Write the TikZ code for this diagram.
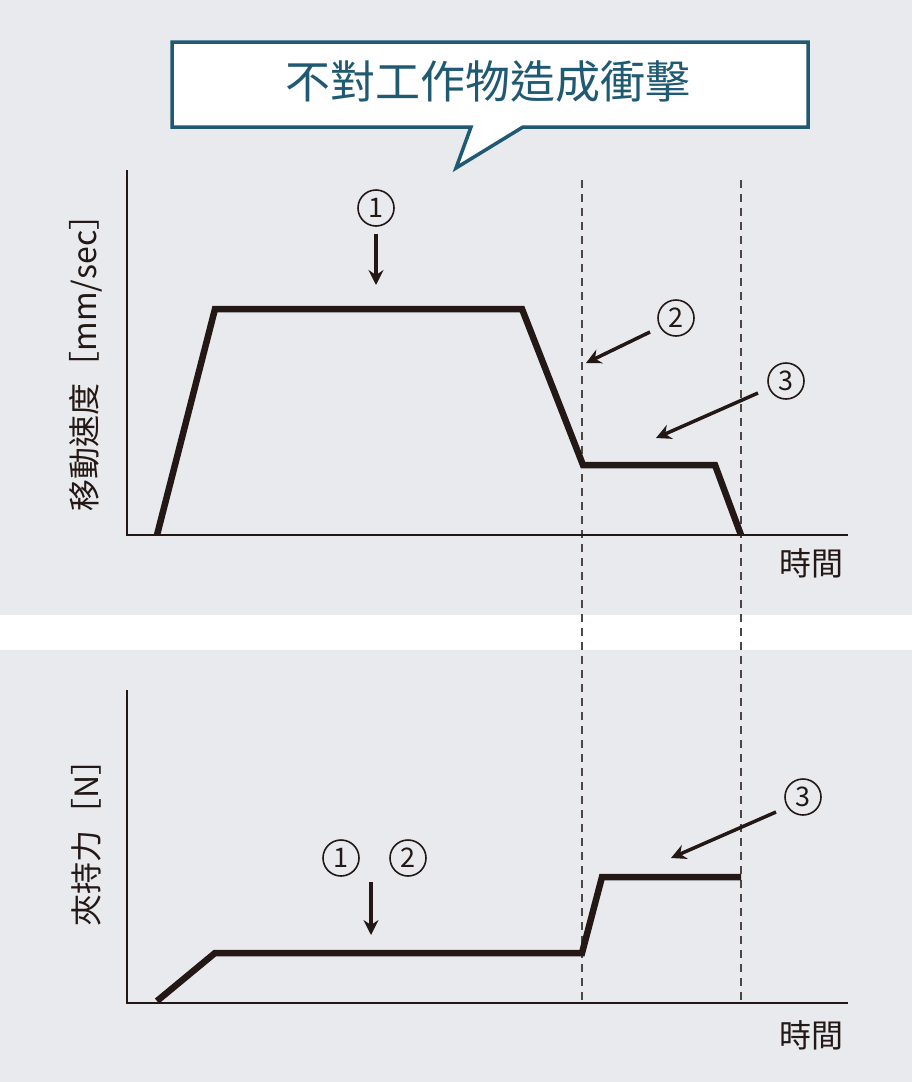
\documentclass[tikz,border=0pt]{standalone}
\usepackage{fontspec}
\setmainfont{Noto Sans CJK TC}
\usetikzlibrary{arrows.meta}
\definecolor{bg}{HTML}{E8EAED}
\definecolor{teal}{HTML}{1F5A72}
\definecolor{ink}{HTML}{231815}
\tikzset{
 curve/.style={line width=6.5pt,ink,line join=miter},
 axis/.style={line width=2pt,ink},
 guide/.style={line width=1.6pt,ink!80,dash pattern=on 8pt off 6pt},
 pointer/.style={line width=3.5pt,ink,-{Stealth[length=15pt,width=15pt,inset=5pt]}},
 num/.style={circle,draw=ink,line width=1.6pt,inner sep=0pt,minimum size=36pt,font=\fontsize{27}{27}\selectfont,text=ink},
 lbl/.style={font=\fontsize{32}{33}\selectfont,text=ink}
}
\begin{document}
\begin{tikzpicture}[x=1pt,y=-1pt]
\fill[bg] (0,0) rectangle (912,1082);
\useasboundingbox (0,0) rectangle (912,1082);
\fill[white] (0,615) rectangle (912,650);
% callout
\draw[teal,line width=3.5pt,fill=white,line join=miter] (172,42) -- (808,42) -- (808,127) -- (523,127) -- (456,168) -- (471,127) -- (172,127) -- cycle;
\node[text=teal,font=\fontsize{45}{46}\selectfont] (title) at (488,82) {不對工作物造成衝擊};
% guides
\coordinate (g1t) at (582,180); \coordinate (g1b) at (582,1003);
\coordinate (g2t) at (741,180); \coordinate (g2b) at (741,1003);
\draw[guide] (g1t) -- (g1b);
\draw[guide] (g2t) -- (g2b);
% upper axes
\coordinate (ua) at (127,170); \coordinate (uo) at (127,535); \coordinate (ux) at (848,535);
\draw[axis] (ua) -- (uo) -- (ux);
\draw[curve] (157,535) -- (215,309) -- (522,309) -- (583,465) -- (715,465) -- (741,535);
\node[lbl,rotate=90] (uy) at (86,355) {移動速度［mm/sec］};
\node[lbl] (ut) at (811,563) {時間};
\node[num] (n1) at (376,208) {1};
\coordinate (a1s) at (376,234); \coordinate (a1e) at (376,285);
\draw[pointer] (a1s) -- (a1e);
\node[num] (n2) at (676,318) {2};
\coordinate (a2s) at (650,332); \coordinate (a2e) at (586,363);
\draw[pointer] (a2s) -- (a2e);
\node[num] (n3) at (786,381) {3};
\coordinate (a3s) at (758,393); \coordinate (a3e) at (656,438);
\draw[pointer] (a3s) -- (a3e);
% lower axes
\coordinate (la) at (127,690); \coordinate (lo) at (127,1003); \coordinate (lx) at (848,1003);
\draw[axis] (la) -- (lo) -- (lx);
\draw[curve] (157,1001) -- (215,953) -- (582,953) -- (602,877) -- (741,877);
\node[lbl,rotate=90] (ly) at (86,835) {夾持力［N］};
\node[lbl] (lt) at (811,1035) {時間};
\node[num] (m1) at (341,858) {1};
\node[num] (m2) at (408,858) {2};
\coordinate (b1s) at (371,882); \coordinate (b1e) at (371,935);
\draw[pointer] (b1s) -- (b1e);
\node[num] (m3) at (803,797) {3};
\coordinate (b3s) at (776,812); \coordinate (b3e) at (671,858);
\draw[pointer] (b3s) -- (b3e);
\end{tikzpicture}
\end{document}
